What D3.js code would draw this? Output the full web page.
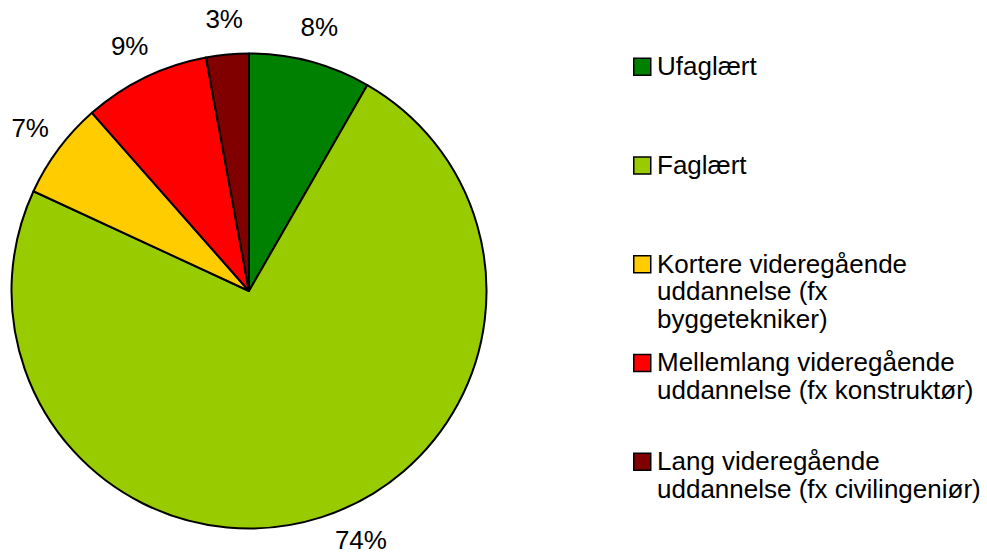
<!DOCTYPE html>
<html>
<head>
<meta charset="utf-8">
<script src="https://cdn.jsdelivr.net/npm/d3@7"></script>
<style>
    html, body { margin: 0; padding: 0; background: #fff; }
    svg text { font-family: "Liberation Sans", Arial, sans-serif; fill: #000; }
</style>
</head>
<body>
<svg id="chart" width="987" height="557"></svg>
<script>
// shares (labels are the rounded values)
const categories = ['Ufaglært', 'Faglært', 'Kortere videregående uddannelse (fx byggetekniker)',
    'Mellemlang videregående uddannelse (fx konstruktør)', 'Lang videregående uddannelse (fx civilingeniør)'];
const shares = [8.3, 73.6, 6.6, 8.6, 2.9];
const percentLabels = ['8%', '74%', '7%', '9%', '3%'];
const legendLines = [
    ['Ufaglært'],
    ['Faglært'],
    ['Kortere videregående', 'uddannelse (fx', 'byggetekniker)'],
    ['Mellemlang videregående', 'uddannelse (fx konstruktør)'],
    ['Lang videregående', 'uddannelse (fx civilingeniør)']
];
const colors = ['#008000', '#99cc00', '#ffcc00', '#ff0000', '#800000'];

const width = 987, height = 557;
const cx = 249, cy = 291, radius = 237.5;
const labelRadius = 273;
const fontSize = 26;

const svg = d3.select('#chart');

const color = d3.scaleOrdinal().domain(categories).range(colors);

const pie = d3.pie()
    .value(d => d.share)
    .sort(null);

const data = categories.map((c, i) => ({ name: c, share: shares[i], label: percentLabels[i] }));
const arcs = pie(data);

const arc = d3.arc().innerRadius(0).outerRadius(radius);

const g = svg.append('g').attr('transform', `translate(${cx},${cy})`);

g.selectAll('path')
    .data(arcs)
    .enter().append('path')
    .attr('d', arc)
    .attr('fill', d => color(d.data.name))
    .attr('stroke', '#000')
    .attr('stroke-width', 2)
    .attr('stroke-linejoin', 'round');

/**
 * Label position on a circle round the pie; if it would fall out of the
 * picture at the bottom it slides along that circle until it fits.
 */
function labelPos(d) {
    const a = (d.startAngle + d.endAngle) / 2;
    let x = labelRadius * Math.sin(a);
    let y = -labelRadius * Math.cos(a);
    const maxY = height - 17 - cy;
    if (y > maxY) {
        y = maxY;
        x = Math.sign(x) * Math.sqrt(labelRadius * labelRadius - y * y);
    }
    return [x, y];
}

g.selectAll('text.pct')
    .data(arcs)
    .enter().append('text')
    .attr('class', 'pct')
    .attr('transform', d => `translate(${labelPos(d)})`)
    .attr('text-anchor', 'middle')
    .attr('dy', '0.35em')
    .style('font-size', fontSize + 'px')
    .text(d => d.data.label);

// legend: one slot per entry, wrapped lines inside it
const legendX = 633, legendTop = 75, legendStep = 98.75, lineStep = 27.5, box = 17;

const legend = svg.append('g');
const items = legend.selectAll('g')
    .data(categories)
    .enter().append('g')
    .attr('transform', (d, i) => `translate(${legendX},${legendTop + i * legendStep})`);

items.append('rect')
    .attr('x', 0.75)
    .attr('y', -box + 0.25)
    .attr('width', box)
    .attr('height', box)
    .attr('fill', d => color(d))
    .attr('stroke', '#000')
    .attr('stroke-width', 1.5);

items.append('text')
    .attr('x', 24)
    .style('font-size', fontSize + 'px')
    .selectAll('tspan')
    .data((d, i) => legendLines[i])
    .enter().append('tspan')
    .attr('x', 24)
    .attr('y', (d, j) => j * lineStep)
    .text(d => d);
</script>
</body>
</html>
